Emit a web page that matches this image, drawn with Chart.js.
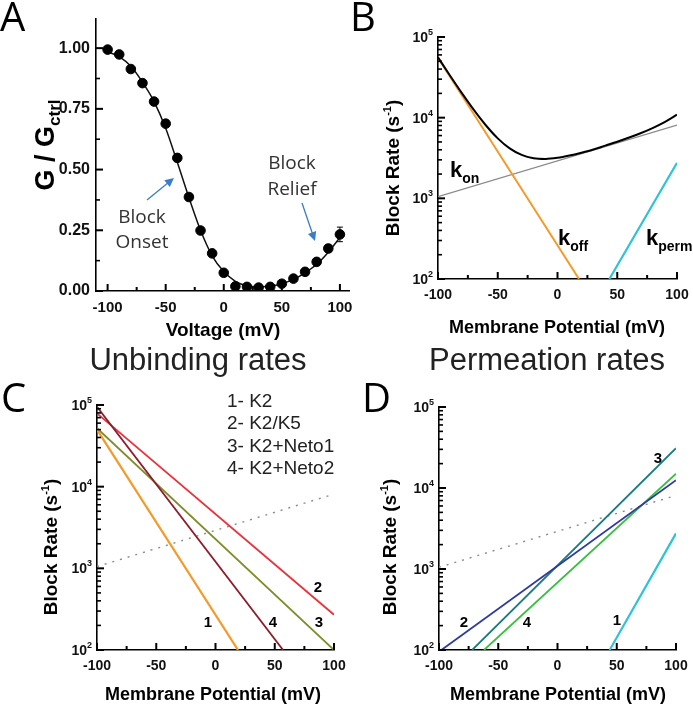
<!DOCTYPE html>
<html>
<head>
<meta charset="utf-8">
<script src="https://cdn.jsdelivr.net/npm/chart.js@4.4.1/dist/chart.umd.min.js"></script>
<style>
  body { margin: 0; background: #fff; width: 693px; height: 708px; position: relative; overflow: hidden; }
  canvas { position: absolute; }
</style>
</head>
<body>
<canvas id="chartA" width="355" height="345" style="left:0;top:0"></canvas>
<canvas id="chartB" width="353" height="345" style="left:340px;top:0"></canvas>
<canvas id="chartC" width="355" height="373" style="left:0;top:335px"></canvas>
<canvas id="chartD" width="338" height="373" style="left:355px;top:335px"></canvas>
<script>
// ---- panel A: G/Gctrl vs voltage ----
var volt = [-100, -90, -80, -70, -60, -50, -40, -30, -20, -10, 0, 10, 20, 30, 40, 50, 60, 70, 80, 90, 100];
var gRatio = [0.994, 0.974, 0.914, 0.856, 0.780, 0.689, 0.548, 0.387, 0.249, 0.155, 0.075, 0.019, 0.017, 0.014, 0.017, 0.030, 0.051, 0.079, 0.120, 0.175, 0.233];
var gErr = [0.008, 0.008, 0.008, 0.008, 0.01, 0.012, 0.015, 0.01, 0.008, 0.008, 0.008, 0.006, 0.006, 0.006, 0.006, 0.006, 0.006, 0.008, 0.01, 0.015, 0.03];
var gFit = [0.985, 0.965, 0.925, 0.86, 0.78, 0.67, 0.53, 0.385, 0.25, 0.145, 0.08, 0.04, 0.022, 0.018, 0.02, 0.03, 0.048, 0.075, 0.11, 0.16, 0.22];
var aXTicks = [-100, -50, 0, 50, 100];
var aXMinor = [-75, -25, 25, 75];
var aYTicks = [0, 0.25, 0.5, 0.75, 1.0];
var aYMinor = [0.125, 0.375, 0.625, 0.875];

// ---- panel B: block rates ----
var kOnV = [-100, 100];
var kOn = [1050, 8100];
var kOffV = [-100, 18];
var kOff = [55000, 100];
var kPermV = [43.4, 100];
var kPerm = [100, 2750];
var kTot = [56000, 33350, 20150, 12470, 8050, 5540, 4160, 3450, 3140, 3080, 3180, 3390, 3675, 4025, 4500, 5030, 5670, 6460, 7490, 8880, 10900];

// ---- panel C: unbinding rates ----
var unbV1 = [-100, 19], unb1 = [50000, 100];
var unbV2 = [-100, 100], unb2 = [79000, 270];
var unbV3 = [-100, 100], unb3 = [52000, 100];
var unbV4 = [-100, 57], unb4 = [95000, 100];
var unbLegend = ['1- K2', '2- K2/K5', '3- K2+Neto1', '4- K2+Neto2'];

// ---- panel D: permeation rates ----
var permV1 = [44, 100], perm1 = [100, 2750];
var permV2 = [-98, 100], perm2 = [100, 12500];
var permV3 = [-72, 100], perm3 = [100, 31000];
var permV4 = [-62, 100], perm4 = [100, 15000];

var rateXTicks = [-100, -50, 0, 50, 100];
var rateXMinor = [-75, -25, 25, 75];
var logTicks = [100, 1000, 10000, 100000];
var logMinorTicks = [200, 300, 400, 500, 600, 700, 800, 900,
  2000, 3000, 4000, 5000, 6000, 7000, 8000, 9000,
  20000, 30000, 40000, 50000, 60000, 70000, 80000, 90000];

var SANS = 'Liberation Sans, Arial, sans-serif';
var LETTER = '40px "Open Sans", sans-serif';

function pts(xs, ys) {
  return xs.map(function (x, i) { return { x: x, y: ys[i] }; });
}

function line(data, color, width, extra) {
  var d = { data: data, showLine: true, borderColor: color, borderWidth: width, pointRadius: 0, fill: false };
  return Object.assign(d, extra || {});
}

function rich(ctx, parts, x, y, align) {
  var w = 0;
  parts.forEach(function (p) { ctx.font = p[1]; w += ctx.measureText(p[0]).width; });
  var cx = align === 'center' ? x - w / 2 : x;
  ctx.textAlign = 'left';
  ctx.textBaseline = 'alphabetic';
  parts.forEach(function (p) {
    ctx.font = p[1];
    ctx.fillText(p[0], cx, y + (p[2] || 0));
    cx += ctx.measureText(p[0]).width;
  });
}

function vrich(ctx, parts, x, y) {
  ctx.save();
  ctx.translate(x, y);
  ctx.rotate(-Math.PI / 2);
  rich(ctx, parts, 0, 0, 'center');
  ctx.restore();
}

// inward tick marks drawn as small rects
function drawTicks(chart, xMaj, xMin, yMaj, yMin) {
  var ctx = chart.ctx, a = chart.chartArea;
  var sx = chart.scales.x, sy = chart.scales.y;
  ctx.save();
  ctx.fillStyle = '#000';
  xMaj.forEach(function (v) { ctx.fillRect(sx.getPixelForValue(v) - 1, a.bottom - 7, 2, 7); });
  xMin.forEach(function (v) { ctx.fillRect(sx.getPixelForValue(v) - 1, a.bottom - 4, 2, 4); });
  yMaj.forEach(function (v) { ctx.fillRect(a.left, sy.getPixelForValue(v) - 1, 7, 2); });
  yMin.forEach(function (v) { ctx.fillRect(a.left, sy.getPixelForValue(v) - 0.8, 4, 1.6); });
  ctx.restore();
}

function logLabels(chart) {
  var ctx = chart.ctx, a = chart.chartArea, y = chart.scales.y;
  ctx.fillStyle = '#111';
  logTicks.forEach(function (v) {
    var p = y.getPixelForValue(v);
    var e = String(Math.round(Math.log10(v)));
    ctx.font = 'bold 9px ' + SANS;
    var ew = ctx.measureText(e).width;
    ctx.font = 'bold 14px ' + SANS;
    var bw = ctx.measureText('10').width;
    var x0 = a.left - 5 - ew - bw;
    rich(ctx, [['10', 'bold 14px ' + SANS], [e, 'bold 9px ' + SANS, -7]], x0, p + 5, 'left');
  });
}

function arrow(ctx, x1, y1, x2, y2, color) {
  var ang = Math.atan2(y2 - y1, x2 - x1), h = 10;
  ctx.save();
  ctx.strokeStyle = color;
  ctx.fillStyle = color;
  ctx.lineWidth = 1.3;
  ctx.beginPath();
  ctx.moveTo(x1, y1);
  ctx.lineTo(x2 - Math.cos(ang) * h * 0.8, y2 - Math.sin(ang) * h * 0.8);
  ctx.stroke();
  ctx.beginPath();
  ctx.moveTo(x2, y2);
  ctx.lineTo(x2 - h * Math.cos(ang - 0.45), y2 - h * Math.sin(ang - 0.45));
  ctx.lineTo(x2 - h * Math.cos(ang + 0.45), y2 - h * Math.sin(ang + 0.45));
  ctx.closePath();
  ctx.fill();
  ctx.restore();
}

function baseOptions(xMin, xMax, yCfg, yWidth, xHeight, pad, xTicks, tickSize, tickPad) {
  return {
    animation: false,
    responsive: false,
    events: [],
    layout: { padding: pad },
    plugins: { legend: { display: false }, tooltip: { enabled: false } },
    scales: {
      x: {
        type: 'linear', min: xMin, max: xMax,
        grid: { display: false, drawTicks: false },
        border: { display: true, color: '#000', width: 1.6 },
        afterBuildTicks: function (s) { s.ticks = xTicks.map(function (v) { return { value: v }; }); },
        afterFit: function (s) { s.height = xHeight; s.paddingLeft = 0; s.paddingRight = 0; },
        ticks: { color: '#111', padding: tickPad, maxRotation: 0, autoSkip: false,
          font: { family: SANS, weight: 'bold', size: tickSize },
          callback: function (v) { return String(v); } }
      },
      y: Object.assign({
        grid: { display: false, drawTicks: false },
        border: { display: true, color: '#000', width: 1.6 },
        afterFit: function (s) { s.width = yWidth; s.paddingTop = 0; s.paddingBottom = 0; }
      }, yCfg)
    }
  };
}

var logY = {
  type: 'logarithmic', min: 100, max: 100000,
  ticks: { display: false },
  afterBuildTicks: function (s) { s.ticks = logTicks.map(function (v) { return { value: v }; }); }
};

// ---------- Chart A ----------
var optA = baseOptions(-110, 108, {
  type: 'linear', min: 0, max: 1.12,
  afterBuildTicks: function (s) { s.ticks = aYTicks.map(function (v) { return { value: v }; }); },
  ticks: { color: '#111', padding: 6, font: { family: SANS, weight: 'bold', size: 16 },
    callback: function (v) { return Number(v).toFixed(2); } }
}, 96, 54, { left: 0, right: 5, top: 19, bottom: 0 }, aXTicks, 15, 8);

new Chart(document.getElementById('chartA'), {
  type: 'scatter',
  data: {
    datasets: [
      { data: pts(volt, gRatio), pointRadius: 4.8, pointBackgroundColor: '#000', pointBorderColor: '#000', showLine: false },
      line(pts(volt, gFit), '#111', 1.5, { cubicInterpolationMode: 'monotone' })
    ]
  },
  options: optA,
  plugins: [{
    id: 'decoA',
    afterDraw: function (chart) {
      var ctx = chart.ctx, x = chart.scales.x, y = chart.scales.y;
      // error bars
      ctx.save();
      ctx.strokeStyle = '#000';
      ctx.lineWidth = 1;
      ctx.beginPath();
      volt.forEach(function (v, i) {
        var px = x.getPixelForValue(v);
        var t = y.getPixelForValue(gRatio[i] + gErr[i]), b = y.getPixelForValue(gRatio[i] - gErr[i]);
        ctx.moveTo(px, t); ctx.lineTo(px, b);
        ctx.moveTo(px - 3, t); ctx.lineTo(px + 3, t);
        ctx.moveTo(px - 3, b); ctx.lineTo(px + 3, b);
      });
      ctx.stroke();
      ctx.restore();
      drawTicks(chart, aXTicks, aXMinor, aYTicks, aYMinor);
      ctx.fillStyle = '#000';
      ctx.font = LETTER;
      ctx.textAlign = 'left';
      ctx.fillText('A', 0, 31);
      vrich(ctx, [['G / G', 'bold 27px ' + SANS], ['ctrl', 'bold 17px ' + SANS, 6]], 54, 145);
      rich(ctx, [['Voltage (mV)', 'bold 19px ' + SANS]], 223, 336, 'center');
      ctx.fillStyle = '#333';
      rich(ctx, [['Block', '19px "Open Sans", sans-serif']], 142, 223, 'center');
      rich(ctx, [['Onset', '19px "Open Sans", sans-serif']], 142, 248, 'center');
      rich(ctx, [['Block', '19px "Open Sans", sans-serif']], 292, 169, 'center');
      rich(ctx, [['Relief', '19px "Open Sans", sans-serif']], 292, 195, 'center');
      arrow(ctx, 147, 200, 174, 178, '#3b7dc4');
      arrow(ctx, 302, 203, 315, 241, '#3b7dc4');
    }
  }]
});

// ---------- Chart B ----------
new Chart(document.getElementById('chartB'), {
  type: 'scatter',
  data: {
    datasets: [
      line(pts(volt, kTot), '#000', 2, { cubicInterpolationMode: 'monotone' }),
      line(pts(kOffV, kOff), '#f39a2b', 2),
      line(pts(kPermV, kPerm), '#30c3d6', 2.2),
      line(pts(kOnV, kOn), '#8a8a8a', 1.4)
    ]
  },
  options: baseOptions(-100, 100, logY, 98, 66, { left: 0, right: 16, top: 37, bottom: 0 }, rateXTicks, 14, 8),
  plugins: [{
    id: 'decoB',
    afterDraw: function (chart) {
      var ctx = chart.ctx;
      drawTicks(chart, rateXTicks, rateXMinor, logTicks, logMinorTicks);
      logLabels(chart);
      ctx.fillStyle = '#000';
      ctx.font = LETTER;
      ctx.textAlign = 'left';
      ctx.fillText('B', 10, 31);
      vrich(ctx, [['Block Rate (s', 'bold 19px ' + SANS], ['-1', 'bold 11px ' + SANS, -8], [')', 'bold 19px ' + SANS]], 59, 168);
      rich(ctx, [['Membrane Potential (mV)', 'bold 18px ' + SANS]], 217, 333, 'center');
      rich(ctx, [['k', 'bold 22px ' + SANS], ['on', 'bold 14px ' + SANS, 6]], 110, 177, 'left');
      rich(ctx, [['k', 'bold 22px ' + SANS], ['off', 'bold 14px ' + SANS, 6]], 218, 245, 'left');
      rich(ctx, [['k', 'bold 22px ' + SANS], ['perm', 'bold 14px ' + SANS, 6]], 306, 245, 'left');
    }
  }]
});

// ---------- Chart C ----------
new Chart(document.getElementById('chartC'), {
  type: 'scatter',
  data: {
    datasets: [
      line(pts(unbV1, unb1), '#f39a2b', 2.2),
      line(pts(unbV4, unb4), '#8c1c2c', 1.8),
      line(pts(unbV3, unb3), '#7e8c2a', 1.8),
      line(pts(unbV2, unb2), '#e8323c', 1.8),
      line(pts(kOnV, kOn), '#8a8a8a', 1.4, { borderDash: [2, 6] })
    ]
  },
  options: baseOptions(-100, 100, logY, 97, 58, { left: 0, right: 21, top: 70, bottom: 0 }, rateXTicks, 14, 8),
  plugins: [{
    id: 'decoC',
    afterDraw: function (chart) {
      var ctx = chart.ctx;
      drawTicks(chart, rateXTicks, rateXMinor, logTicks, logMinorTicks);
      logLabels(chart);
      ctx.fillStyle = '#000';
      ctx.font = LETTER;
      ctx.textAlign = 'left';
      ctx.fillText('C', 1, 77);
      ctx.fillStyle = '#222';
      rich(ctx, [['Unbinding rates', '31px ' + SANS]], 198, 35, 'center');
      unbLegend.forEach(function (s, i) {
        rich(ctx, [[s, '19px ' + SANS]], 227, 72 + i * 22.3, 'left');
      });
      ctx.fillStyle = '#000';
      vrich(ctx, [['Block Rate (s', 'bold 19px ' + SANS], ['-1', 'bold 11px ' + SANS, -8], [')', 'bold 19px ' + SANS]], 57, 212);
      rich(ctx, [['Membrane Potential (mV)', 'bold 18px ' + SANS]], 213, 365, 'center');
      var f = 'bold 15px ' + SANS;
      rich(ctx, [['2', f]], 318, 257, 'center');
      rich(ctx, [['1', f]], 208, 292, 'center');
      rich(ctx, [['4', f]], 273, 292, 'center');
      rich(ctx, [['3', f]], 319, 292, 'center');
    }
  }]
});

// ---------- Chart D ----------
new Chart(document.getElementById('chartD'), {
  type: 'scatter',
  data: {
    datasets: [
      line(pts(permV1, perm1), '#30c3d6', 2.2),
      line(pts(permV2, perm2), '#2f3a9c', 1.8),
      line(pts(permV4, perm4), '#3dbd45', 1.8),
      line(pts(permV3, perm3), '#1a7c80', 1.8),
      line(pts(kOnV, kOn), '#8a8a8a', 1.4, { borderDash: [2, 6] })
    ]
  },
  options: baseOptions(-100, 100, logY, 84, 58, { left: 0, right: 17, top: 72, bottom: 0 }, rateXTicks, 14, 8),
  plugins: [{
    id: 'decoD',
    afterDraw: function (chart) {
      var ctx = chart.ctx;
      drawTicks(chart, rateXTicks, rateXMinor, logTicks, logMinorTicks);
      logLabels(chart);
      ctx.fillStyle = '#000';
      ctx.font = LETTER;
      ctx.textAlign = 'left';
      ctx.fillText('D', 7, 77);
      ctx.fillStyle = '#222';
      rich(ctx, [['Permeation rates', '31px ' + SANS]], 192, 35, 'center');
      ctx.fillStyle = '#000';
      vrich(ctx, [['Block Rate (s', 'bold 19px ' + SANS], ['-1', 'bold 11px ' + SANS, -8], [')', 'bold 19px ' + SANS]], 41, 212);
      rich(ctx, [['Membrane Potential (mV)', 'bold 18px ' + SANS]], 203, 365, 'center');
      var f = 'bold 15px ' + SANS;
      rich(ctx, [['3', f]], 303, 128, 'center');
      rich(ctx, [['2', f]], 109, 292, 'center');
      rich(ctx, [['4', f]], 172, 292, 'center');
      rich(ctx, [['1', f]], 262, 290, 'center');
    }
  }]
});
</script>
</body>
</html>
